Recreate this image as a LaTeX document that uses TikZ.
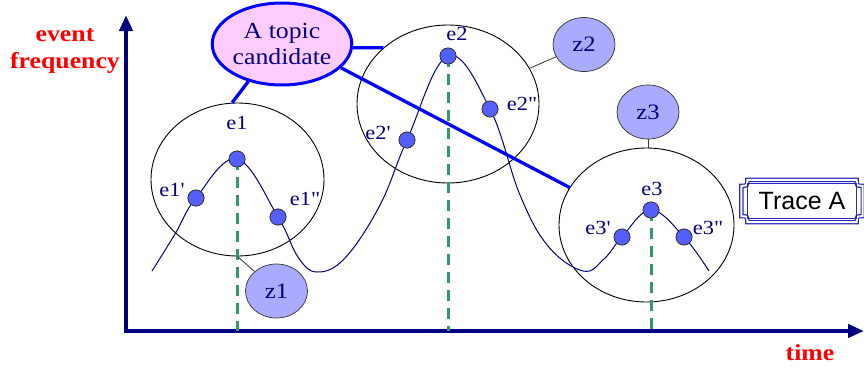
\documentclass[tikz,border=0pt]{standalone}
\usepackage{fontspec}
\setmainfont{Liberation Serif}[FakeStretch=1.12,Ligatures=TeXOff]
\setsansfont{Liberation Sans}
\usetikzlibrary{shapes.geometric,arrows.meta,calc}
\definecolor{navyc}{RGB}{0,0,128}
\definecolor{redc}{RGB}{255,0,0}
\definecolor{pinkc}{RGB}{255,204,255}
\definecolor{lavc}{RGB}{170,170,255}
\definecolor{dotc}{RGB}{85,95,255}
\definecolor{greenc}{RGB}{51,153,102}
\definecolor{bluec}{RGB}{0,0,255}
\definecolor{framec}{RGB}{40,40,190}
\tikzset{
  axisline/.style={draw=navyc,line width=4.5pt},
  axislabel/.style={text=redc,font=\fontsize{23}{27}\selectfont\bfseries,align=center,inner sep=0pt},
  event/.style={ellipse,draw=black,line width=0.9pt,inner sep=0pt},
  zblob/.style={ellipse,draw=black!80,line width=0.7pt,fill=lavc,text=navyc,font=\fontsize{22}{24}\selectfont,minimum width=62pt,minimum height=54pt,inner sep=0pt},
  evdot/.style={circle,draw=black!80,line width=0.7pt,fill=dotc,minimum size=16pt,inner sep=0pt},
  elabel/.style={text=navyc,font=\fontsize{20}{22}\selectfont,inner sep=0pt},
  vdash/.style={draw=greenc,line width=3pt,dash pattern=on 11pt off 7pt},
  topicline/.style={draw=bluec,line width=3.3pt},
  zline/.style={draw=black!80,line width=0.8pt},
  curveline/.style={draw=navyc,line width=1pt},
}
\begin{document}
\begin{tikzpicture}[x=1pt,y=-1pt]
\useasboundingbox (0,0) rectangle (864,370);
% axes
\coordinate (o) at (126,331);
\coordinate (ytip) at (126,15);
\coordinate (xtip) at (864,331);
\draw[axisline,{Triangle[length=16pt,width=13pt]}-{Triangle[length=16pt,width=13pt]}] (ytip) -- (o) -- (xtip);
\node[axislabel] (yl) at (65,51) {event\\frequency};
\node[axislabel] (xl) at (810,353) {time};
% event ellipses
\node[event,minimum width=173pt,minimum height=153pt] (ell1) at (237.5,179.5) {};
\node[event,minimum width=182pt,minimum height=158pt] (ell2) at (448,104) {};
\node[event,minimum width=175pt,minimum height=154pt] (ell3) at (646.5,225) {};
% frequency curve
\draw[curveline] plot[smooth,tension=0.65] coordinates {(152,271) (175,234) (196,198) (237,159) (278,217) (298,257) (317,272) (345,258) (380,205) (407,140) (448,56) (490,109) (520,195) (548,246) (583,271) (604,259) (622,237) (651,210) (684,237) (709,271)};
% dots
\node[evdot] (e1) at (237,159) {};
\node[evdot] (e1a) at (196,198) {};
\node[evdot] (e1b) at (278,217) {};
\node[evdot] (e2) at (448,56) {};
\node[evdot] (e2a) at (407,140) {};
\node[evdot] (e2b) at (490,109) {};
\node[evdot] (e3) at (651,210) {};
\node[evdot] (e3a) at (622,237) {};
\node[evdot] (e3b) at (684,237) {};
\draw[vdash] (e1.center) -- (e1 |- o);
\draw[vdash] (e2.center) -- (e2 |- o);
\draw[vdash] (e3.center) -- (e3 |- o);
% redraw dots on top
\foreach \d in {e1,e1a,e1b,e2,e2a,e2b,e3,e3a,e3b}{
  \path[draw=black!80,fill=dotc,line width=0.7pt] (\d.center) circle[radius=8pt];
}
% labels
\node[elabel] (le1) at (237,123) {e1};
\node[elabel] (le1a) at (172,190) {e1'};
\node[elabel] (le1b) at (305,199) {e1"};
\node[elabel] (le2) at (457,34) {e2};
\node[elabel] (le2a) at (378,133) {e2'};
\node[elabel] (le2b) at (522,104) {e2"};
\node[elabel] (le3) at (652,189) {e3};
\node[elabel] (le3a) at (598,228) {e3'};
\node[elabel] (le3b) at (708,228) {e3"};
% z blobs
\node[zblob] (z1) at (276.5,291) {z1};
\node[zblob] (z2) at (584,44.5) {z2};
\node[zblob] (z3) at (648,112) {z3};
\draw[zline] (ell1.south) -- (z1);
\draw[zline] (ell2) -- (z2);
\draw[zline] (ell3.north -| z3.south) -- (z3.south);
% topic candidate
\node[ellipse,draw=bluec,line width=3pt,fill=pinkc,text=navyc,font=\fontsize{23}{26}\selectfont,align=center,minimum width=130pt,minimum height=82pt,inner sep=0pt] (topic) at (282,44) {A topic\\candidate};
\draw[topicline] (topic.228) -- (ell1.94);
\draw[topicline] (topic.357) -- (ell2.139);
\draw[topicline] (topic.-22) -- (ell3.154);
% Trace A
\node[text=black,font=\sffamily\fontsize{25}{28}\selectfont,minimum width=121pt,minimum height=42pt,inner sep=0pt] (trace) at (802,201) {Trace A};
\coordinate (tnw) at (trace.north west);
\coordinate (tse) at (trace.south east);
\draw[draw=framec,line width=1.2pt,double=white,double distance=2pt]
  ($(tnw)+(6,0)$) -- ($(tnw -| tse)+(-6,0)$) .. controls ($(tnw -| tse)+(-6,6)$) .. ($(tnw -| tse)+(0,6)$)
  -- ($(tse)+(0,-6)$) .. controls ($(tse)+(-6,-6)$) .. ($(tse)+(-6,0)$)
  -- ($(tse -| tnw)+(6,0)$) .. controls ($(tse -| tnw)+(6,-6)$) .. ($(tse -| tnw)+(0,-6)$)
  -- ($(tnw)+(0,6)$) .. controls ($(tnw)+(6,6)$) .. cycle;
\draw[draw=framec,line width=0.9pt] ($(tnw)+(6,4)$) rectangle ($(tse)+(-6,-4)$);
\end{tikzpicture}
\end{document}
